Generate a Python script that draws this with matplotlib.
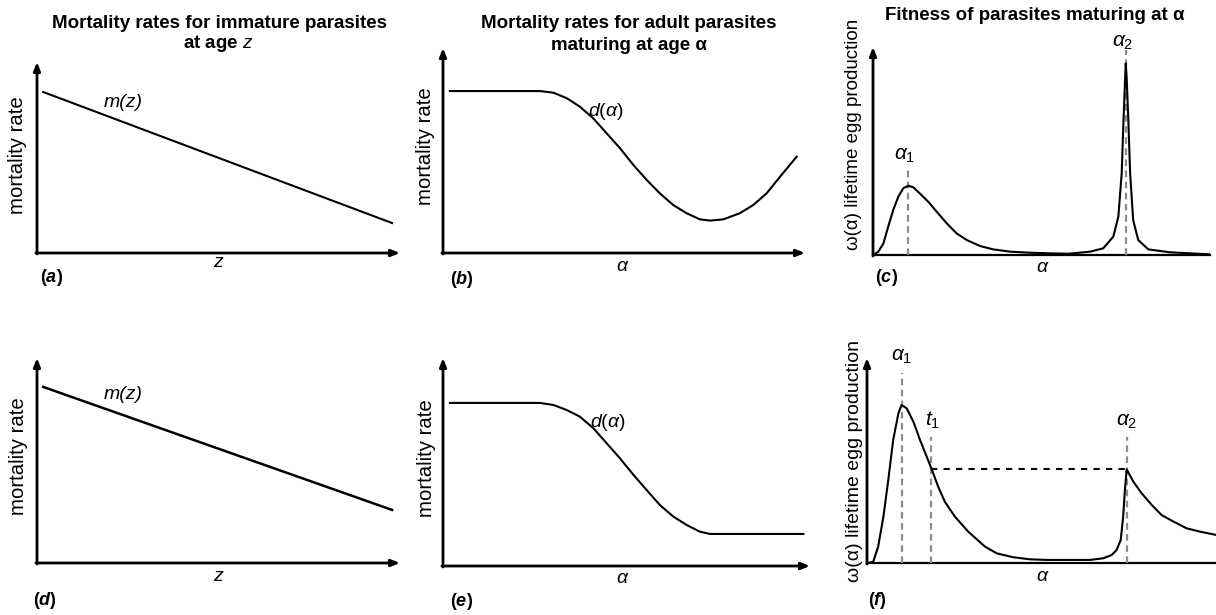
import matplotlib
matplotlib.use('Agg')
import matplotlib.pyplot as plt

plt.rcParams['font.family'] = ['Liberation Sans', 'DejaVu Sans']
plt.rcParams['mathtext.fontset'] = 'custom'
plt.rcParams['mathtext.rm'] = 'Liberation Sans'
plt.rcParams['mathtext.it'] = 'Liberation Sans:italic'
plt.rcParams['mathtext.bf'] = 'Liberation Sans:bold'
plt.rcParams['mathtext.bfit'] = 'Liberation Sans:bold:italic'

W, H = 1216, 615

# ---- data (axes run 0..100) ----
# (a) immature mortality m(z)
a_x = [1.7, 97.8]
a_y = [84.3, 15.7]
# (d) immature mortality m(z)
d_x = [1.7, 97.8]
d_y = [85.9, 25.9]
# (b) adult mortality d(alpha)
b_x = [1.9, 26.8, 30.5, 34.2, 37.8, 41.5, 45.2, 48.9, 52.6, 56.3, 59.9, 63.6, 67.3, 71.0, 73.8,
       77.4, 82.0, 85.7, 89.4, 93.1, 97.7]
b_y = [79.0, 79.0, 78.2, 75.5, 71.4, 65.7, 58.4, 51.1, 42.9, 35.6, 29.1, 23.4, 19.4, 16.4, 15.8,
       16.4, 19.4, 23.4, 29.1, 37.2, 47.0]
# (e) adult mortality d(alpha)
e_x = [1.9, 26.4, 30.1, 33.7, 37.3, 41.0, 44.6, 48.2, 51.9, 55.5, 59.1, 62.8, 66.4, 70.0, 72.8, 98.2]
e_y = [78.4, 78.4, 77.4, 75.0, 71.8, 66.2, 59.0, 51.8, 43.8, 36.5, 29.3, 23.7, 19.7, 16.5, 15.4, 15.4]
# (c) fitness omega(alpha)
c_x = [0.1, 1.6, 3.1, 4.5, 6.0, 7.5, 9.0, 10.5, 12.0, 13.9, 16.4, 18.9, 21.9, 24.8, 27.8, 31.8,
       35.7, 40.7, 46.6, 52.5, 58.0, 64.4, 68.3, 71.3, 72.8, 73.8, 74.3, 74.8, 75.0, 75.3, 75.8,
       76.3, 77.2, 78.7, 81.7, 88.1, 100]
c_y = [0, 1.6, 5.6, 13.6, 21.6, 28.0, 32.1, 33.3, 32.5, 29.6, 25.6, 20.8, 15.2, 10.4, 7.2, 4.3,
       2.7, 1.6, 1.1, 0.8, 0.6, 1.6, 3.2, 8.8, 18.4, 39.3, 63.3, 84.1, 92.2, 84.1, 63.3,
       39.3, 16.8, 7.2, 2.7, 1.3, 0.3]
c_alpha1 = 10.5
c_alpha1_top = 41.8
c_alpha2 = 75.0
c_alpha2_top = 98.6
# (f) fitness omega(alpha)
f_x = [0.4, 1.8, 3.2, 4.7, 6.1, 7.5, 9.0, 9.9, 11.4, 13.3, 15.2, 17.1, 18.5, 20.4, 22.3, 25.2,
       29.0, 33.8, 37.2, 41.9, 46.7, 51.5, 63.9, 67.7, 70.1, 71.5, 72.7, 73.4, 73.9, 74.4, 76.3,
       78.7, 81.6, 84.4, 87.8, 91.6, 95.4, 100]
f_y = [0, 0.7, 8.0, 22.6, 40.5, 60.0, 73.0, 77.1, 75.4, 68.9, 60.0, 51.9, 45.9, 37.2, 29.9, 22.6,
       15.3, 8.0, 4.7, 2.8, 1.8, 1.5, 1.5, 2.3, 3.9, 6.3, 11.2, 22.6, 35.6, 45.7, 39.7,
       34.0, 28.3, 23.4, 20.2, 16.9, 15.3, 13.7]
f_alpha1 = 9.9
f_alpha1_top = 92.7
f_t1 = 18.3
f_alpha2 = 74.4
f_marker_top = 61.5
f_level = 45.8


def make_axes(fig, left, right, bottom, top, arrow_x=True):
    ax = fig.add_axes([left / W, 1 - bottom / H, (right - left) / W, (bottom - top) / H])
    ax.set_xlim(0, 100)
    ax.set_ylim(0, 100)
    for s in ax.spines.values():
        s.set_visible(False)
    ax.set_xticks([])
    ax.set_yticks([])
    ax.patch.set_alpha(0)
    ax.annotate('', xy=(0, 1), xytext=(0, -0.005), xycoords='axes fraction',
                arrowprops=dict(arrowstyle='-|>,head_length=0.5,head_width=0.2', lw=2, color='black',
                                shrinkA=0, shrinkB=0))
    if arrow_x:
        ax.annotate('', xy=(1, 0), xytext=(-0.003, 0), xycoords='axes fraction',
                    arrowprops=dict(arrowstyle='-|>,head_length=0.5,head_width=0.2', lw=2, color='black',
                                    shrinkA=0, shrinkB=0))
    else:
        ax.plot([0, 1], [0, 0], transform=ax.transAxes, color='black', lw=1.6, clip_on=False)
    return ax


def panel_label(ax, x, y, letter):
    ax.text(x, y, r'$\mathbf{(}\mathbfit{' + letter + r'}\mathbf{)}$', fontsize=13,
            ha='left', va='center', clip_on=False)


fig = plt.figure(figsize=(W / 100, H / 100), dpi=100)

grey = dict(color='#8c8c8c', lw=1.6, dashes=(3, 2))

# (a)
ax = make_axes(fig, 37, 400, 253, 62)
ax.plot(a_x, a_y, color='black', lw=1.5)
ax.text(23.7, 79, 'm(z)', fontsize=14, style='italic', ha='center', va='center')
ax.text(49.9, -5.2, 'z', fontsize=14, style='italic', ha='center', va='center')
ax.text(-0.055, 0.51, 'mortality rate', fontsize=14.7, rotation=90, ha='center', va='center',
        transform=ax.transAxes)
panel_label(ax, 0.8, -12.6, 'a')

# (b)
ax = make_axes(fig, 443, 805, 253, 48)
ax.plot(b_x, b_y, color='black', lw=1.5)
ax.text(40.1, 68.8, r'$d(\alpha)$', fontsize=14, ha='left', va='center')
ax.text(49.7, -6.8, r'$\alpha$', fontsize=14, ha='center', va='center')
ax.text(-0.047, 0.52, 'mortality rate', fontsize=14.7, rotation=90, ha='center', va='center',
        transform=ax.transAxes)
panel_label(ax, 1.9, -12.7, 'b')

# (c)
ax = make_axes(fig, 873, 1210, 255, 47, arrow_x=False)
ax.plot([c_alpha1, c_alpha1], [0, c_alpha1_top], **grey)
ax.plot([c_alpha2, c_alpha2], [0, c_alpha2_top], **grey)
ax.plot(c_x, c_y, color='black', lw=1.5)
ax.text(9.5, 48, r'$\alpha_{\mathit{1}}$', fontsize=15, ha='center', va='center')
ax.text(74.2, 102, r'$\alpha_{\mathit{2}}$', fontsize=15, ha='center', va='center', clip_on=False)
ax.text(50.4, -5.8, r'$\alpha$', fontsize=14, ha='center', va='center')
ax.text(-0.059, 0.58, 'ω(α) lifetime egg production', fontsize=13.5, rotation=90,
        ha='center', va='center', transform=ax.transAxes)
panel_label(ax, 0.6, -10.6, 'c')

# (d)
ax = make_axes(fig, 37, 400, 563, 358)
ax.plot(d_x, d_y, color='black', lw=1.8)
ax.text(23.7, 82.4, 'm(z)', fontsize=14, style='italic', ha='center', va='center')
ax.text(49.9, -6.8, 'z', fontsize=14, style='italic', ha='center', va='center')
ax.text(-0.05, 0.52, 'mortality rate', fontsize=14.7, rotation=90, ha='center', va='center',
        transform=ax.transAxes)
panel_label(ax, -1.1, -18.5, 'd')

# (e)
ax = make_axes(fig, 443, 810, 566, 358)
ax.plot(e_x, e_y, color='black', lw=1.5)
ax.text(40.1, 68.8, r'$d(\alpha)$', fontsize=14, ha='left', va='center')
ax.text(49, -5.8, r'$\alpha$', fontsize=14, ha='center', va='center')
ax.text(-0.044, 0.52, 'mortality rate', fontsize=14.7, rotation=90, ha='center', va='center',
        transform=ax.transAxes)
panel_label(ax, 1.9, -17.3, 'e')

# (f)
ax = make_axes(fig, 867, 1216, 563, 358, arrow_x=False)
ax.plot([f_alpha1, f_alpha1], [0, f_alpha1_top], **grey)
ax.plot([f_t1, f_t1], [0, f_marker_top], **grey)
ax.plot([f_alpha2, f_alpha2], [0, f_marker_top], **grey)
ax.plot([f_t1, f_alpha2], [f_level, f_level], color='black', lw=1.5, dashes=(3, 3))
ax.plot(f_x, f_y, color='black', lw=1.5)
ax.text(10, 100.5, r'$\alpha_{\mathit{1}}$', fontsize=15, ha='center', va='center', clip_on=False)
ax.text(18.9, 69.8, r'$t_{\mathit{1}}$', fontsize=15, ha='center', va='center')
ax.text(74.5, 68.8, r'$\alpha_{\mathit{2}}$', fontsize=15, ha='center', va='center')
ax.text(50.4, -6.8, r'$\alpha$', fontsize=14, ha='center', va='center')
ax.text(-0.037, 0.50, 'ω(α) lifetime egg production', fontsize=14, rotation=90,
        ha='center', va='center', transform=ax.transAxes)
panel_label(ax, 0.3, -18.5, 'f')

# titles
fig.text(219 / W, 1 - 23 / H, 'Mortality rates for immature parasites', fontsize=13.5,
         fontweight='bold', ha='center', va='center')
fig.text(218 / W, 1 - 44 / H, r'at age $z$', fontsize=13.5, fontweight='bold', ha='center', va='center')
fig.text(629 / W, 1 - 24 / H, 'Mortality rates for adult parasites', fontsize=13.5,
         fontweight='bold', ha='center', va='center')
fig.text(629 / W, 1 - 45 / H, 'maturing at age α', fontsize=13.5, fontweight='bold',
         ha='center', va='center')
fig.text(1035 / W, 1 - 16 / H, 'Fitness of parasites maturing at α', fontsize=13.5,
         fontweight='bold', ha='center', va='center')

fig.savefig('out.png', dpi=100)
